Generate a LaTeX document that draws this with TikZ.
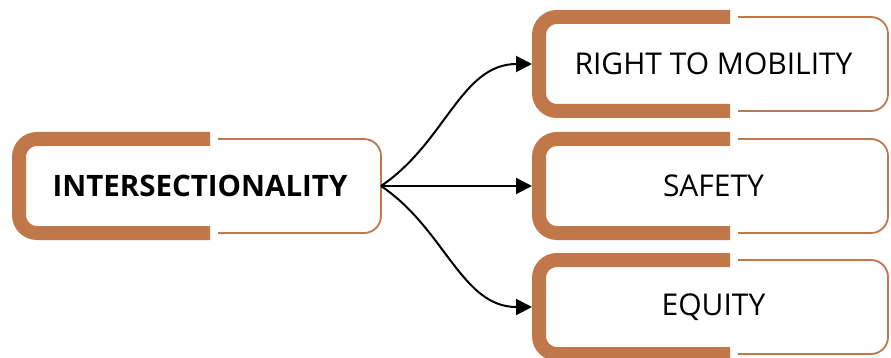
\documentclass[tikz,border=0pt]{standalone}
\usepackage{fontspec}
\setmainfont{Open Sans}
\usetikzlibrary{calc,arrows.meta}
\definecolor{rust}{RGB}{192,120,74}
\tikzset{
  box/.style={inner sep=0pt,outer sep=0pt,minimum height=94pt,font=\fontsize{30}{34}\selectfont},
  heavyedge/.style={draw=rust,line width=14pt,line cap=butt,rounded corners=18pt},
  lightedge/.style={draw=rust,line width=1.8pt,rounded corners=17pt},
  link/.style={line width=2pt,-{Triangle[length=16pt,width=16pt]},shorten >=7pt},
}
% open bracket frame: heavy left part, light right part, small gap between
\newcommand\splitframe[1]{%
  \draw[heavyedge] ($(#1.north west)+(191pt,0)$) -- (#1.north west) -- (#1.south west) -- ($(#1.south west)+(191pt,0)$);
  \draw[lightedge] ($(#1.north west)+(199pt,0)$) -- (#1.north east) -- (#1.south east) -- ($(#1.south west)+(199pt,0)$);
}
\begin{document}
\begin{tikzpicture}[x=1pt,y=-1pt]
  \useasboundingbox (0,0) rectangle (891,358);
  \node[box,minimum width=362pt,font=\fontsize{29.5}{34}\selectfont\bfseries] (inter) at (200,186) {INTERSECTIONALITY};
  \node[box,minimum width=349pt] (right) at (713.5,64) {RIGHT TO MOBILITY};
  \node[box,minimum width=349pt] (safety) at (713.5,186) {SAFETY};
  \node[box,minimum width=349pt] (equity) at (713.5,307) {EQUITY};
  \splitframe{inter}
  \splitframe{right}
  \splitframe{safety}
  \splitframe{equity}
  \draw[link] (inter.east) to[out=34,in=180] (right.west);
  \draw[link] (inter.east) -- (safety.west);
  \draw[link] (inter.east) to[out=-34,in=180] (equity.west);
\end{tikzpicture}
\end{document}
